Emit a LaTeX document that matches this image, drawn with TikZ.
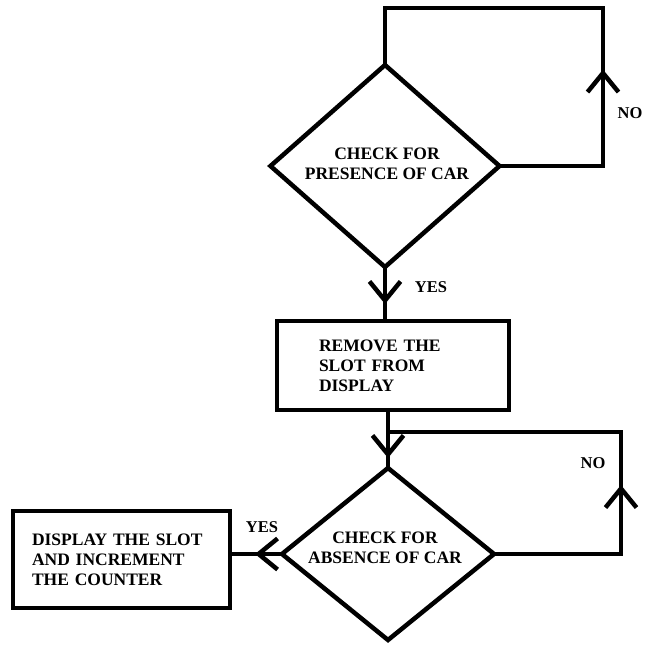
\documentclass[tikz,border=0pt]{standalone}
\usepackage{fontspec}
\setmainfont{Liberation Serif}
\usetikzlibrary{shapes.geometric,arrows.meta,decorations.markings}
\begin{document}
\begin{tikzpicture}[x=1pt,y=-1pt,
  line width=4.5pt,
  every node/.style={font=\fontsize{17.5}{20}\selectfont\bfseries},
  box/.style={draw, rectangle, inner ysep=0pt, outer sep=0pt, align=left},
  decision/.style={draw, diamond, inner sep=0pt, outer sep=0pt},
  dtext/.style={inner sep=0pt, align=center},
  lbl/.style={inner sep=0pt, font=\fontsize{16.5}{20}\selectfont\bfseries},
  chev/.style={postaction={decorate}, decoration={markings,
     mark=at position #1 with {\arrow{Straight Barb[length=19pt,width=31pt,line width=4.5pt]}}}}
]
\fill[white] (0,0) rectangle (645,646);
\useasboundingbox (0,0) rectangle (645,646);

% nodes
\node[decision, minimum width=229pt, minimum height=202pt] (d1) at (385,166) {};
\node[dtext] (d1t) at (387,164) {CHECK FOR\\PRESENCE OF CAR};

\node[box, minimum height=89pt, inner xsep=42pt, text width=148pt] (r1) at (393,365.5)
  {REMOVE THE\\SLOT FROM\\DISPLAY};

\node[decision, minimum width=212pt, minimum height=172pt] (d2) at (388,554) {};
\node[dtext] (d2t) at (385,548) {CHECK FOR\\ABSENCE OF CAR};

\node[box, minimum height=97pt, inner xsep=19pt, text width=179pt] (r2) at (121.5,559.5)
  {DISPLAY THE SLOT\\AND INCREMENT\\THE COUNTER};

% labels
\node[lbl] (no1) at (630,113) {NO};
\node[lbl] (yes1) at (431,287) {YES};
\node[lbl] (no2) at (593,463) {NO};
\node[lbl] (yes2) at (262,527) {YES};

% connectors
\coordinate (c1) at (603,8);
\draw[chev=200pt] (d1.east) -| (c1) -| (d1.north);

\draw[chev=37pt] (d1.south) -- (d1.south |- r1.north);

\draw[chev=48pt] (d2.north |- r1.south) -- (d2.north);

\coordinate (c2) at (621,432);
\draw[chev=196pt] (d2.east) -| (c2) -- (d2.north |- c2);

\draw[chev=27pt] (d2.west) -- (d2.west -| r2.east);
\end{tikzpicture}
\end{document}
